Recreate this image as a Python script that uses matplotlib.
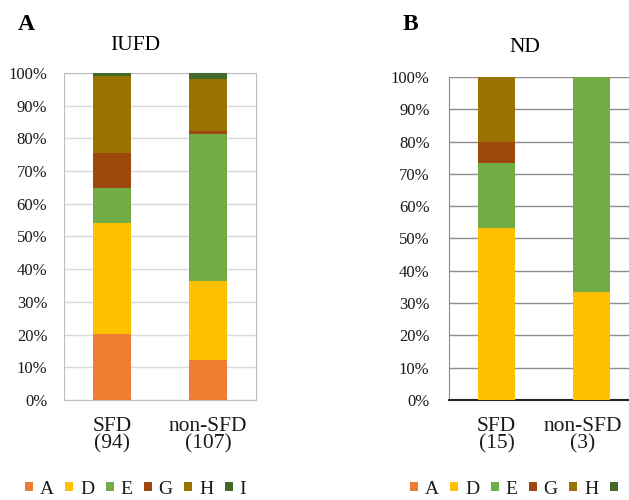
"""Stacked percentage bars for IUFD and ND groups."""

import matplotlib.pyplot as plt
import matplotlib.transforms as mtransforms
import numpy as np
from matplotlib.patches import Patch

plt.rcParams["font.family"] = ["Liberation Serif", "DejaVu Serif"]

classes = ["A", "D", "E", "G", "H", "I"]
colors = ["#ED7D31", "#FFC000", "#70AD47", "#9E480E", "#997300", "#43682B"]

iufd_groups = ["SFD\n(94)", "non-SFD\n(107)"]
iufd_counts = {
    "A": [19, 13],
    "D": [32, 26],
    "E": [10, 48],
    "G": [10, 1],
    "H": [22, 17],
    "I": [1, 2],
}

nd_groups = ["SFD\n(15)", "non-SFD\n(3)"]
nd_counts = {
    "A": [0, 0],
    "D": [8, 1],
    "E": [3, 2],
    "G": [1, 0],
    "H": [3, 0],
    "I": [0, 0],
}

fig = plt.figure(figsize=(6.29, 5.0), dpi=100)
ax_a = fig.add_axes([64 / 629, 0.2, 192 / 629, 0.654])
ax_b = fig.add_axes([449 / 629, 0.2, 190 / 629, 0.646])


def draw_panel(axis, groups, counts, grid_color, frame_color, bottom_color, label_pad):
    totals = np.sum([counts[c] for c in classes], axis=0)
    x = np.arange(len(groups))
    bottom = np.zeros(len(groups))
    for name, color in zip(classes, colors):
        share = np.array(counts[name]) / totals * 100
        axis.bar(x, share, width=0.39, bottom=bottom, color=color, zorder=3)
        bottom += share
    axis.set_xlim(-0.5, 1.5)
    axis.set_ylim(0, 100)
    axis.set_yticks(np.arange(0, 101, 10))
    axis.set_yticklabels([f"{v}%" for v in range(0, 101, 10)])
    axis.set_xticks(x)
    axis.set_xticklabels(groups, fontsize=15.5, linespacing=0.9)
    axis.tick_params(axis="y", length=0, pad=label_pad, labelsize=12, labelcolor="#1a1a1a")
    axis.tick_params(axis="x", length=0, pad=12, labelcolor="#1a1a1a")
    axis.grid(axis="y", color=grid_color, linewidth=1.0, zorder=0)
    for side in ["top", "right", "left"]:
        axis.spines[side].set_color(frame_color)
    axis.spines["bottom"].set_color(bottom_color)


draw_panel(ax_a, iufd_groups, iufd_counts, "#D9D9D9", "#BFBFBF", "#BFBFBF", 12)
draw_panel(ax_b, nd_groups, nd_counts, "#8C8C8C", "#8C8C8C", "#262626", 14)
ax_b.spines["top"].set_visible(False)
ax_b.spines["bottom"].set_linewidth(1.5)

# the right label of panel B is pushed left so it stays inside the picture
shift = mtransforms.ScaledTranslation(-9 / 100, 0, fig.dpi_scale_trans)
last_label = ax_b.get_xticklabels()[1]
last_label.set_transform(last_label.get_transform() + shift)

fig.text(18 / 629, 1 - 25 / 500, "A", fontsize=17, fontweight="bold", va="center")
fig.text(135 / 629, 1 - 45 / 500, "IUFD", fontsize=15.5, ha="center", va="center")
fig.text(403 / 629, 1 - 25 / 500, "B", fontsize=17, fontweight="bold", va="center")
fig.text(525 / 629, 1 - 48 / 500, "ND", fontsize=15.5, ha="center", va="center")

handles = [Patch(facecolor=c, edgecolor="none") for c in colors]
for x0, labels in [(25 / 629, classes), (410 / 629, classes[:5] + [""])]:
    fig.legend(
        handles, labels, loc="center left", bbox_to_anchor=(x0, 1 - 489 / 500),
        ncol=6, frameon=False, fontsize=14, handlelength=0.4, handleheight=0.4,
        handletextpad=0.35, columnspacing=0.6, borderpad=0, borderaxespad=0,
        labelcolor="#1a1a1a",
    )

fig.savefig("out.png", dpi=100)
